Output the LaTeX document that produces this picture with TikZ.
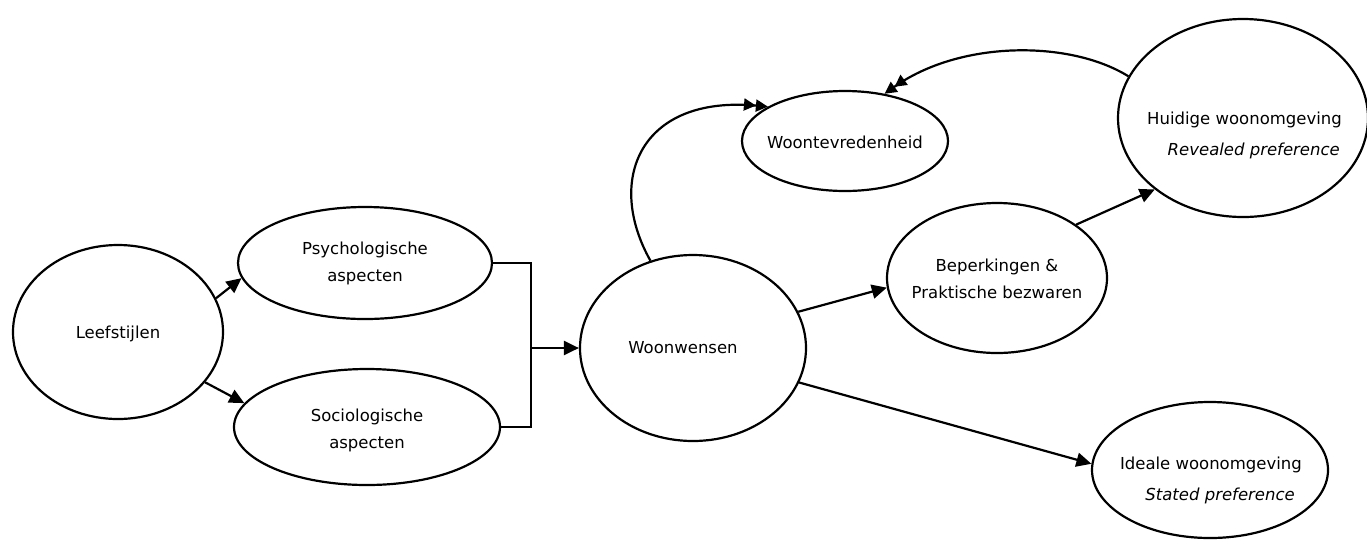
\documentclass[tikz,border=0pt]{standalone}
\usepackage{fontspec}
\setmainfont{DejaVu Sans}
\usetikzlibrary{shapes.geometric,arrows.meta}
\tikzset{
  oval/.style={draw=black,line width=2.2pt,ellipse,inner sep=0pt},
  lbl/.style={font=\fontsize{16.5}{27}\selectfont,align=center,inner sep=0pt,text=black},
  conn/.style={line width=2.2pt,draw=black},
  arr/.style={conn,-{Triangle[length=15pt,width=14pt]}},
  darr/.style={conn,-{Triangle[length=12pt,width=12pt]Triangle[length=12pt,width=12pt]}}
}
\begin{document}
\begin{tikzpicture}[x=1pt,y=-1pt]
\useasboundingbox (0,0) rectangle (1367,542);
% ellipses
\node[oval,minimum width=210pt,minimum height=174pt] (leef) at (118,332) {};
\node[oval,minimum width=254pt,minimum height=112pt] (psy) at (365,263) {};
\node[oval,minimum width=266pt,minimum height=116pt] (soc) at (367,427) {};
\node[oval,minimum width=226pt,minimum height=186pt] (ww) at (693,348) {};
\node[oval,minimum width=206pt,minimum height=100pt] (wt) at (845,141) {};
\node[oval,minimum width=220pt,minimum height=150pt] (bep) at (997,278) {};
\node[oval,minimum width=250pt,minimum height=198pt] (hu) at (1243,118) {};
\node[oval,minimum width=236pt,minimum height=136pt] (id) at (1210,470) {};
% labels
\node[lbl] (tleef) at (118,334) {Leefstijlen};
\node[lbl] (tpsy) at (365,263) {Psychologische\\aspecten};
\node[lbl] (tsoc) at (367,430) {Sociologische\\aspecten};
\node[lbl] (tww) at (683,348) {Woonwensen};
\node[lbl] (twt) at (845,142) {Woontevredenheid};
\node[lbl] (tbep) at (997,279) {Beperkingen \&\\Praktische bezwaren};
\node[lbl,anchor=east] (thu1) at (1342,120) {Huidige woonomgeving};
\node[lbl,anchor=east] (thu2) at (1340,151) {\itshape Revealed preference};
\node[lbl,anchor=east] (tid1) at (1302,465) {Ideale woonomgeving};
\node[lbl,anchor=east] (tid2) at (1295,496) {\itshape Stated preference};
% connectors
\draw[arr] (leef.19) -- (psy.187);
\draw[arr] (leef.330) -- (soc.169);
\coordinate (brk) at (531,348);
\draw[conn] (psy.east) -| (brk) |- (soc.east);
\draw[arr] (brk) -- (ww.west);
\draw[darr] (ww.116) .. controls (605,180) and (640,95) .. (wt.156);
\draw[darr] (hu.160) .. controls (1070,40) and (960,40) .. (wt.50);
\draw[arr] (ww.19) -- (bep.185);
\draw[arr] (bep.34) -- (hu.219);
\draw[arr] (ww.342) -- (id.177);
\end{tikzpicture}
\end{document}
